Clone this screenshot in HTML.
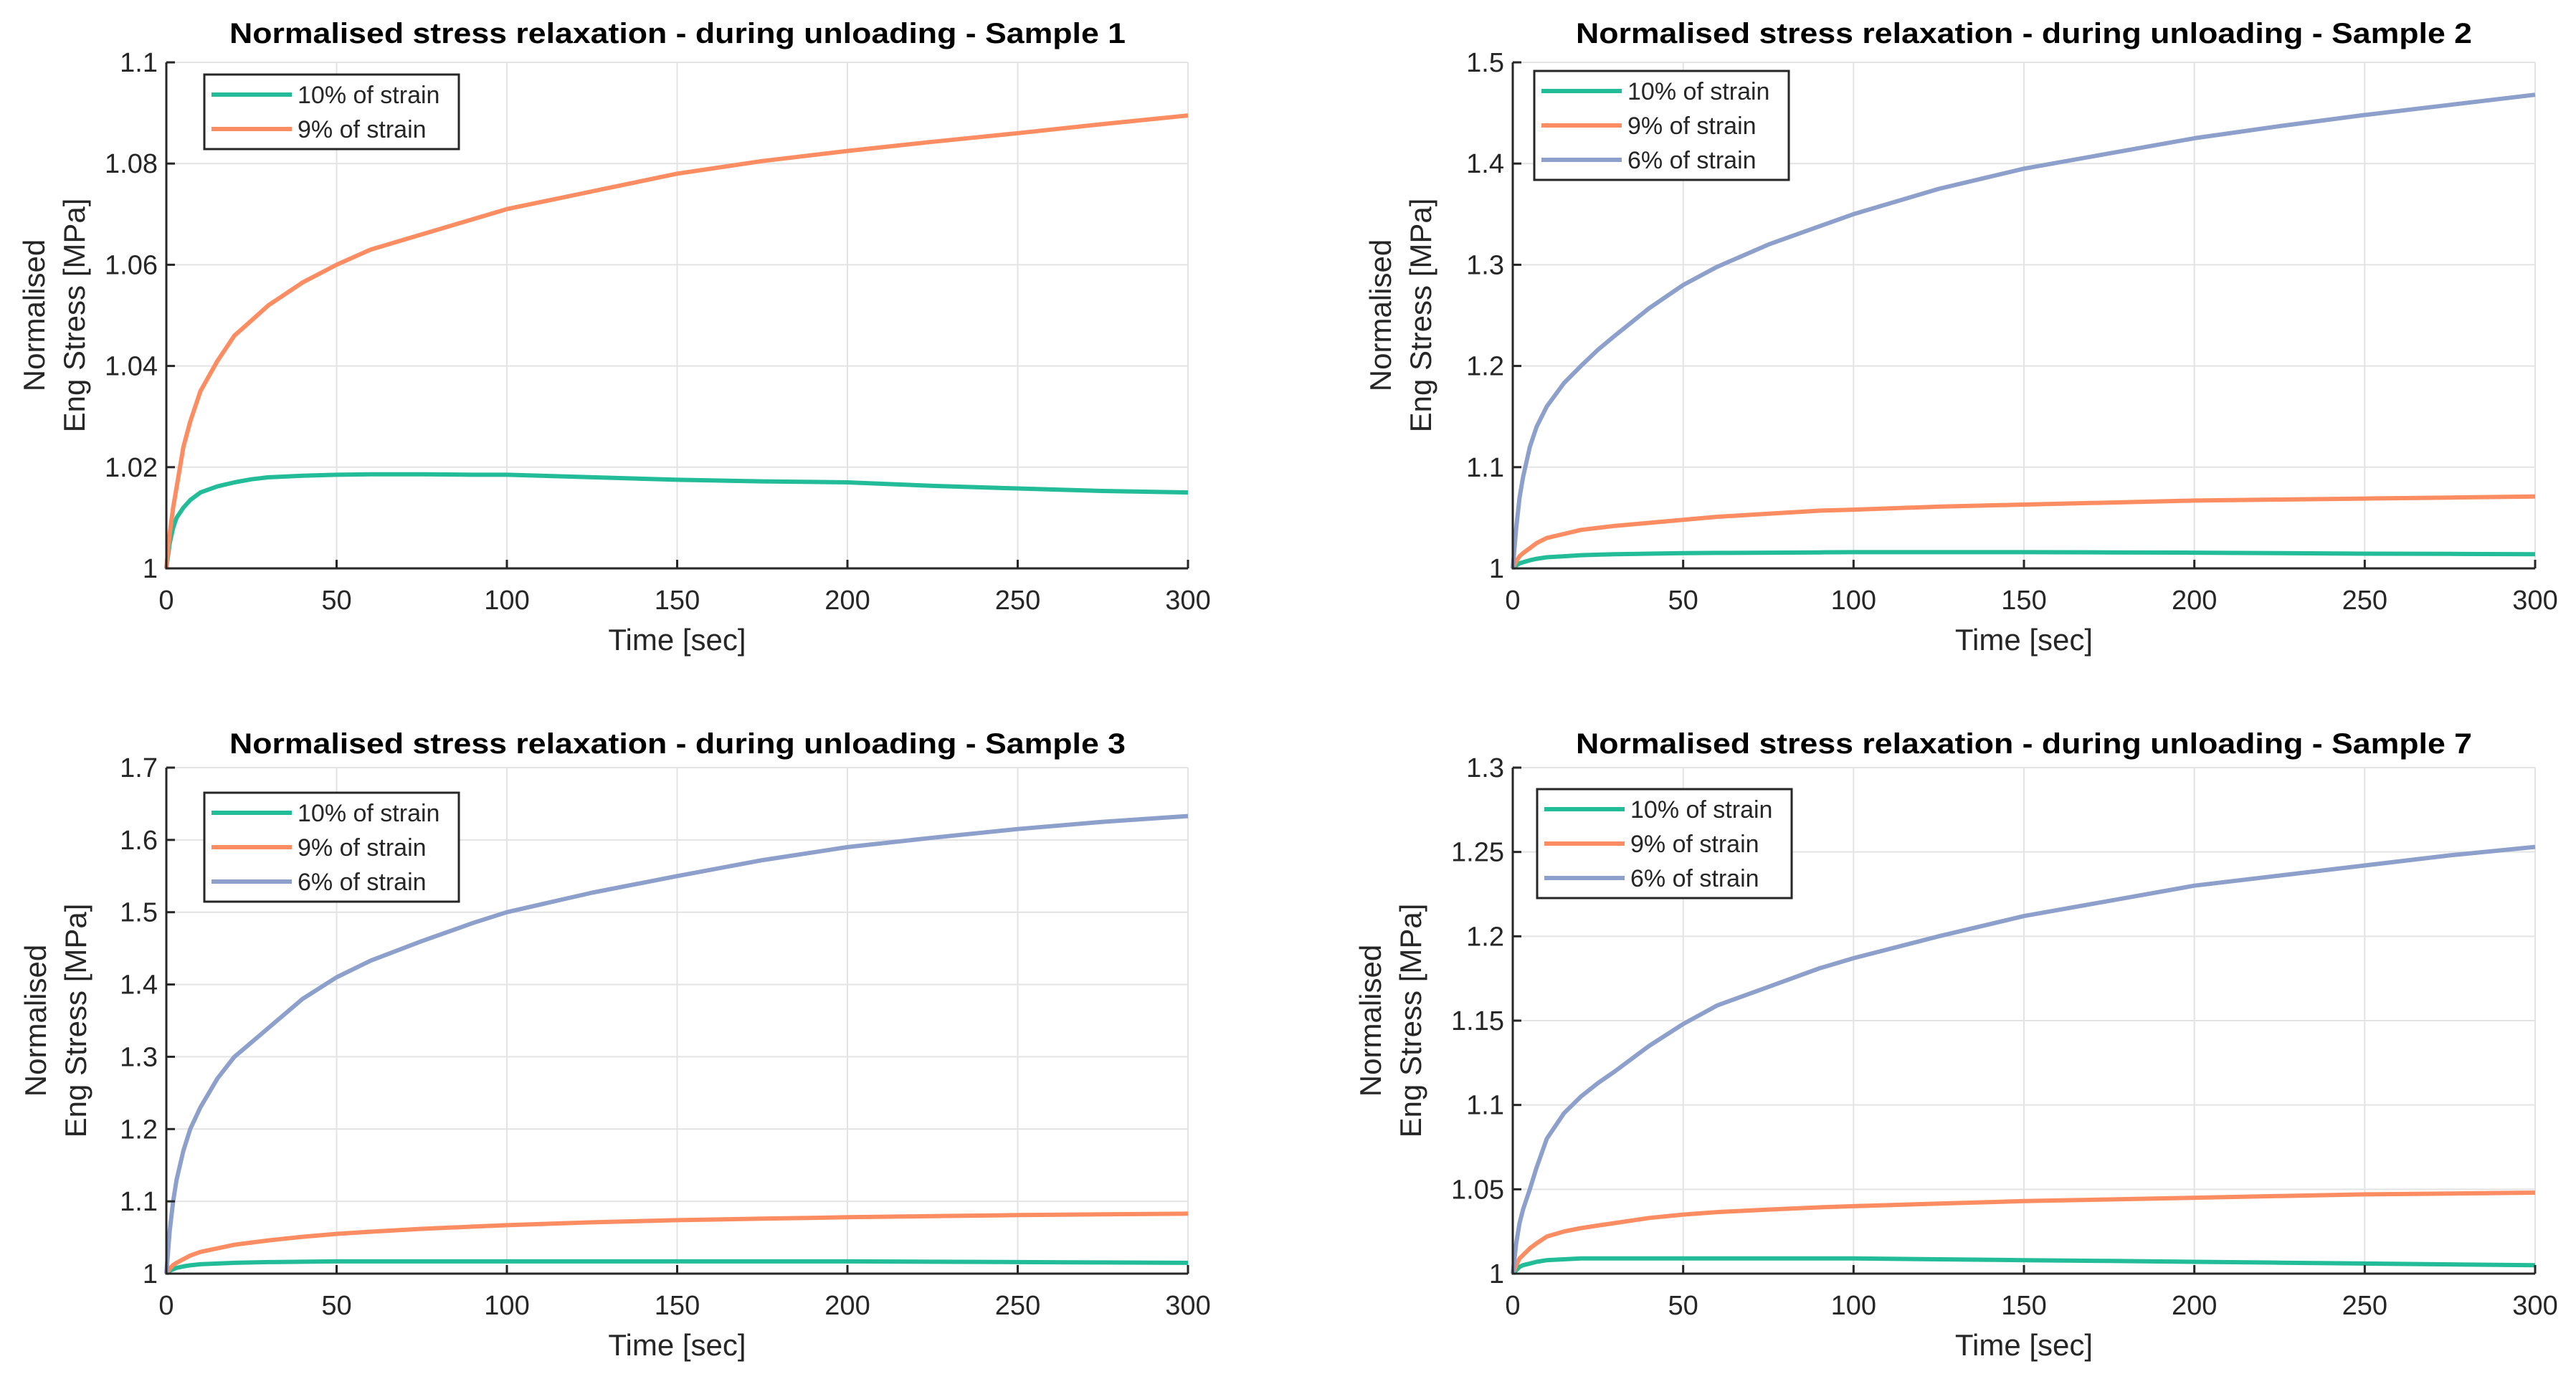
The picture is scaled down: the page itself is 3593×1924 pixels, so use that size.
<!DOCTYPE html>
<html><head><meta charset="utf-8"><style>
html,body{margin:0;padding:0;background:#fff;}
svg{display:block;font-family:"Liberation Sans",Arial,sans-serif;}
</style></head><body>
<svg id="fig" width="3593" height="1924" viewBox="0 0 3593 1924" xmlns="http://www.w3.org/2000/svg"></svg>
<script>
// ---- data ----
const timeS = [0,1,2,3,5,7,10,15,20,25,30,40,50,60,75,90,100,125,150,175,200,225,250,275,300];
const s1_t10 = [1,1.005,1.008,1.010,1.012,1.0135,1.015,1.0162,1.017,1.0176,1.018,1.0183,1.0185,1.0186,1.0186,1.0185,1.0185,1.018,1.0175,1.0172,1.017,1.0163,1.0158,1.0153,1.015];
const s1_t9  = [1,1.007,1.012,1.016,1.024,1.029,1.035,1.041,1.046,1.049,1.052,1.0565,1.060,1.063,1.066,1.069,1.071,1.0745,1.078,1.0805,1.0825,1.0843,1.086,1.0878,1.0895];
const s2_t10 = [1,1.003,1.005,1.006,1.008,1.0095,1.011,1.012,1.013,1.0135,1.014,1.0145,1.015,1.0153,1.0155,1.0158,1.016,1.016,1.016,1.0158,1.0155,1.015,1.0145,1.0143,1.014];
const s2_t9  = [1,1.007,1.012,1.015,1.02,1.025,1.03,1.034,1.038,1.040,1.042,1.045,1.048,1.051,1.054,1.057,1.058,1.061,1.063,1.065,1.067,1.068,1.069,1.070,1.071];
const s2_t6  = [1,1.04,1.07,1.09,1.12,1.14,1.16,1.183,1.2,1.216,1.23,1.257,1.28,1.298,1.32,1.338,1.35,1.375,1.395,1.41,1.425,1.437,1.448,1.458,1.468];
const s3_t10 = [1,1.004,1.006,1.008,1.01,1.0115,1.013,1.014,1.015,1.0155,1.016,1.0165,1.017,1.017,1.017,1.017,1.017,1.017,1.017,1.017,1.017,1.0165,1.016,1.0155,1.015];
const s3_t9  = [1,1.007,1.012,1.015,1.02,1.025,1.03,1.035,1.04,1.043,1.046,1.051,1.055,1.058,1.062,1.065,1.067,1.071,1.074,1.076,1.078,1.0795,1.081,1.082,1.083];
const s3_t6  = [1,1.06,1.1,1.13,1.17,1.2,1.23,1.27,1.3,1.32,1.34,1.38,1.41,1.433,1.46,1.485,1.5,1.527,1.55,1.572,1.59,1.603,1.615,1.625,1.633];
const s7_t10 = [1,1.002,1.004,1.005,1.006,1.007,1.008,1.0085,1.009,1.009,1.009,1.009,1.009,1.009,1.009,1.009,1.009,1.0085,1.008,1.0075,1.007,1.0065,1.006,1.0055,1.005];
const s7_t9  = [1,1.005,1.009,1.011,1.015,1.018,1.022,1.025,1.027,1.0285,1.03,1.033,1.035,1.0365,1.038,1.0393,1.04,1.0415,1.043,1.044,1.045,1.046,1.047,1.0475,1.048];
const s7_t6  = [1,1.018,1.03,1.038,1.05,1.063,1.08,1.095,1.105,1.113,1.12,1.135,1.148,1.159,1.17,1.181,1.187,1.2,1.212,1.221,1.23,1.236,1.242,1.248,1.253];
const xTicks = [0,50,100,150,200,250,300];
const yTicks1 = [1,1.02,1.04,1.06,1.08,1.1];
const yTicks2 = [1,1.1,1.2,1.3,1.4,1.5];
const yTicks3 = [1,1.1,1.2,1.3,1.4,1.5,1.6,1.7];
const yTicks7 = [1,1.05,1.1,1.15,1.2,1.25,1.3];
const legendLabels = ["10% of strain","9% of strain","6% of strain"];

const COLORS = ["#22bd98","#fc8d62","#8da0cb"];
const NS = "http://www.w3.org/2000/svg";
const svg = document.getElementById('fig');
function mk(tag, attrs, parent){const e=document.createElementNS(NS,tag);for(const k in attrs)e.setAttribute(k,attrs[k]);(parent||svg).appendChild(e);return e;}

function panel(cfg){
  const g = mk('g',{});
  
  
  const L=cfg.L,R=cfg.R,T=cfg.T,B=cfg.B;
  const ymin=cfg.yt[0], ymax=cfg.yt[cfg.yt.length-1];
  const X=v=>L+(v-0)/300*(R-L);
  const Y=v=>B-(v-ymin)/(ymax-ymin)*(B-T);
  xTicks.forEach(t=>{ if(t>0){ const l=mk('line',{x1:X(t),x2:X(t),y1:T,y2:B,stroke:'#e3e3e3','stroke-width':2},g);
     }});
  cfg.yt.forEach(t=>{ if(t>ymin){ const l=mk('line',{x1:L,x2:R,y1:Y(t),y2:Y(t),stroke:'#e3e3e3','stroke-width':2},g);
     }});
  cfg.series.forEach((s,i)=>{
    const d=timeS.map((t,j)=>(j?'L':'M')+X(t).toFixed(1)+','+Y(s[j]).toFixed(1)).join('');
    const p=mk('path',{d:d,fill:'none',stroke:COLORS[i],'stroke-width':6,'stroke-linejoin':'round'},g);
    
    
  });
  const ax=mk('path',{d:`M${L},${T}V${B}H${R}`,fill:'none',stroke:'#262626','stroke-width':3},g);
   
  xTicks.forEach(t=>{ mk('line',{x1:X(t),x2:X(t),y1:B,y2:B-12,stroke:'#262626','stroke-width':3},g);
    const tx=mk('text',{x:X(t),y:B+57,'font-size':38,'text-anchor':'middle',fill:'#262626'},g); tx.textContent=t;
     });
  cfg.yt.forEach(t=>{ mk('line',{x1:L,x2:L+12,y1:Y(t),y2:Y(t),stroke:'#262626','stroke-width':3},g);
    const tx=mk('text',{x:L-12,y:Y(t)+13,'font-size':38,'text-anchor':'end',fill:'#262626'},g); tx.textContent=String(t);
     });
  const ti=mk('text',{x:cfg.tx,y:cfg.ty,'font-size':40,'font-weight':'bold','text-anchor':'middle',textLength:1250,lengthAdjust:'spacingAndGlyphs'},g);
  ti.textContent=cfg.title;  
  const xl=mk('text',{x:(L+R)/2,y:B+114,'font-size':42,'text-anchor':'middle',fill:'#262626'},g);
  xl.textContent='Time [sec]';  
  const cy=(T+B)/2;
  const y1=mk('text',{x:cfg.yl,y:cy,'font-size':42,'text-anchor':'middle',fill:'#262626',transform:`rotate(-90 ${cfg.yl} ${cy})`},g);
  y1.textContent='Normalised';  
  const y2=mk('text',{x:cfg.yl+56,y:cy,'font-size':42,'text-anchor':'middle',fill:'#262626',transform:`rotate(-90 ${cfg.yl+56} ${cy})`},g);
  y2.textContent='Eng Stress [MPa]';  
  const n=cfg.series.length, lx=cfg.lx, ly=cfg.ly, lh=8+n*48;
  const lg=mk('g',{},g);  
  mk('rect',{x:lx,y:ly,width:355,height:lh,fill:'#fff',stroke:'#262626','stroke-width':3},lg);
  for(let i=0;i<n;i++){
    const ry=ly+28+i*48;
    const ln=mk('line',{x1:lx+10,x2:lx+122,y1:ry,y2:ry,stroke:COLORS[i],'stroke-width':6},lg);
     
    const t=mk('text',{x:lx+130,y:ry+12,'font-size':34,fill:'#262626'},lg); t.textContent=legendLabels[i];
     
  }
}
panel({name:'panel-sample-1',L:232,R:1657,T:87,B:793,yt:yTicks1,series:[s1_t10,s1_t9],title:'Normalised stress relaxation - during unloading -  Sample 1',tx:945,ty:60,yl:62,lx:285,ly:104});
panel({name:'panel-sample-2',L:2110,R:3536,T:87,B:793,yt:yTicks2,series:[s2_t10,s2_t9,s2_t6],title:'Normalised stress relaxation - during unloading - Sample 2',tx:2823,ty:60,yl:1940,lx:2140,ly:99});
panel({name:'panel-sample-3',L:232,R:1657,T:1071,B:1777,yt:yTicks3,series:[s3_t10,s3_t9,s3_t6],title:'Normalised stress relaxation - during unloading - Sample 3',tx:945,ty:1051,yl:64,lx:285,ly:1106});
panel({name:'panel-sample-7',L:2110,R:3536,T:1071,B:1777,yt:yTicks7,series:[s7_t10,s7_t9,s7_t6],title:'Normalised stress relaxation - during unloading - Sample 7',tx:2823,ty:1051,yl:1926,lx:2144,ly:1101});
</script>
</body></html>
